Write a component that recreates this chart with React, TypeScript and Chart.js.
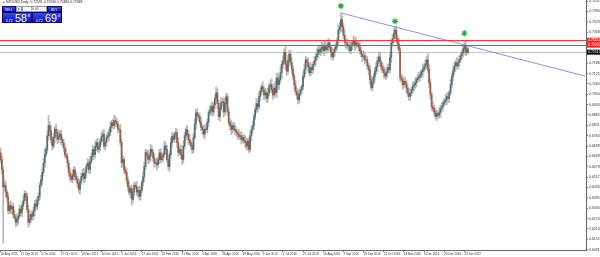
import React, { useEffect, useRef } from 'react';
import { Chart, registerables } from 'chart.js';
Chart.register(...registerables);

// NZDUSD daily closes, in pips (x 1e-4)
const closes = [
  6620,6560,6460,6470,6430,6400,6320,6350,6330,6346,
  6300,6280,6252,6270,6290,6330,6310,6350,6380,6420,
  6405,6330,6252,6270,6300,6288,6320,6360,6346,6380,
  6405,6470,6500,6545,6600,6650,6680,6760,6820,6790,
  6738,6700,6750,6800,6779,6740,6756,6770,6738,6720,
  6690,6650,6639,6600,6545,6520,6504,6530,6560,6520,
  6504,6480,6446,6490,6522,6540,6510,6545,6580,6600,
  6563,6610,6639,6680,6650,6697,6720,6680,6697,6730,
  6756,6770,6700,6720,6750,6760,6779,6810,6837,6820,
  6850,6843,6830,6800,6797,6720,6603,6620,6560,6545,
  6500,6460,6428,6450,6387,6430,6470,6463,6430,6440,
  6405,6440,6486,6520,6580,6662,6650,6621,6640,6680,
  6662,6630,6600,6603,6590,6621,6660,6620,6639,6650,
  6700,6680,6620,6580,6650,6720,6756,6740,6770,6779,
  6720,6662,6680,6650,6621,6700,6760,6797,6770,6738,
  6720,6700,6680,6750,6830,6896,6880,6873,6840,6810,
  6797,6770,6800,6797,6840,6896,6910,6931,6900,6940,
  6980,7013,6950,6873,6920,6955,6960,6900,6950,6990,
  6900,6837,6820,6797,6820,6800,6790,6779,6770,6756,
  6760,6738,6750,6730,6720,6700,6730,6680,6760,6797,
  6820,6870,6914,6950,6930,6990,7020,7048,7030,7000,
  7013,6980,7010,7048,7060,7030,7000,7040,7013,7100,
  7060,7089,7130,7180,7200,7250,7180,7140,7200,7240,
  7190,7150,7110,7060,7020,7000,6972,7010,7030,7048,
  7110,7150,7206,7190,7165,7130,7160,7148,7180,7200,
  7224,7240,7265,7250,7270,7282,7260,7290,7265,7280,
  7305,7280,7250,7224,7250,7270,7282,7320,7381,7400,
  7440,7399,7350,7310,7305,7290,7282,7260,7290,7305,
  7320,7290,7305,7300,7282,7260,7240,7224,7230,7206,
  7206,7170,7148,7090,7042,7071,7110,7140,7165,7200,
  7224,7190,7165,7150,7130,7110,7130,7160,7148,7220,
  7305,7330,7360,7380,7330,7300,7265,7101,7089,7060,
  7080,7071,7040,7010,6990,7010,7030,7050,7060,7071,
  7090,7100,7107,7120,7136,7150,7165,7180,7206,7150,
  7071,7000,6931,6920,6900,6873,6890,6880,6896,6920,
  6931,6950,6960,6972,6990,6980,7013,7060,7107,7140,
  7170,7189,7170,7190,7206,7230,7247,7270,7290,7250,
  7270,7251,
];
const firstOpen = 6660;

// wick lengths beyond the body, in pips
const upperWick = [
  30,25,20,35,20,15,25,20,30,15,20,25,15,30,20,25,15,20,30,20,
  15,20,25,30,20,15,25,20,30,25,20,15,30,20,25,35,20,30,60,25,
  30,20,25,15,30,20,35,20,25,15,20,25,30,20,15,25,20,30,20,15,
  25,20,30,15,20,25,30,20,15,25,20,30,20,25,15,30,20,25,20,15,
  25,20,30,15,20,25,20,30,15,20,30,25,20,15,25,30,20,25,15,20,
  25,20,30,15,20,25,20,15,30,20,25,20,15,30,25,20,15,25,20,30,
  20,15,25,20,30,15,20,25,20,15,30,20,25,15,20,30,25,20,15,25,
  20,30,15,25,20,30,20,15,25,20,30,15,20,25,30,20,25,15,20,30,
  15,25,20,30,20,15,25,20,30,15,20,35,25,20,15,30,20,25,30,20,
  15,25,20,30,15,20,25,20,15,30,20,25,15,20,30,25,15,20,30,20,
  25,20,15,30,20,25,20,15,30,20,25,15,30,20,25,35,20,30,40,25,
  30,25,35,20,30,20,35,25,30,20,25,30,20,15,25,20,30,25,20,15,
  25,30,20,15,25,20,30,20,15,25,20,30,25,20,15,30,20,25,20,15,
  25,20,15,30,20,25,20,15,30,25,41,25,20,30,15,25,20,30,20,15,
  25,20,30,15,20,25,20,15,30,20,25,20,15,25,20,30,15,20,25,20,
  30,20,15,25,20,30,15,20,25,30,20,25,30,23,25,20,30,15,20,25,
  20,25,15,20,30,20,15,25,20,30,15,20,25,20,15,30,20,25,20,35,
  25,20,15,30,20,25,20,15,30,20,25,15,20,30,20,25,15,30,20,25,
  20,15,30,20,25,20,15,25,20,30,15,10,
];
const lowerWick = [
  20,25,330,20,30,25,20,15,25,30,20,15,25,20,30,15,20,25,20,15,
  25,20,30,15,20,25,20,30,15,20,25,20,15,30,20,25,15,20,25,30,
  20,25,15,30,20,25,20,15,30,20,25,20,15,30,20,25,15,20,30,20,
  15,25,20,30,15,20,25,20,30,15,20,25,15,20,30,20,25,15,20,25,
  20,30,15,25,20,15,30,20,25,15,20,30,20,25,15,20,30,25,20,15,
  25,20,15,30,35,20,25,15,20,30,20,25,15,20,30,20,15,25,20,30,
  15,20,25,20,30,15,25,20,15,30,20,25,15,20,30,20,25,15,20,25,
  30,20,15,25,30,20,15,25,20,30,15,20,25,20,15,30,20,25,15,20,
  25,20,30,15,20,25,15,30,20,25,20,15,30,20,25,15,20,30,20,25,
  20,15,25,30,20,15,25,20,30,15,20,25,20,15,30,20,25,20,15,30,
  20,25,15,20,30,15,25,20,15,30,20,25,20,15,30,20,25,15,20,30,
  25,30,20,35,25,20,30,25,20,30,15,25,20,30,20,25,25,20,15,25,
  20,15,25,20,30,15,20,25,20,15,30,20,25,15,20,25,20,30,15,20,
  25,20,30,15,20,25,15,20,25,20,30,25,20,15,30,20,25,15,20,25,
  20,30,15,20,25,20,15,30,20,25,15,20,30,25,12,20,15,25,20,30,
  15,20,25,20,30,15,20,25,15,20,30,20,25,15,20,30,25,20,15,25,
  20,15,30,20,20,25,15,20,30,20,25,15,20,25,20,30,15,20,25,20,
  30,25,20,15,20,13,25,20,15,30,20,25,15,20,30,20,25,15,20,25,
  20,30,15,20,25,15,20,25,30,20,15,10,
];

const dateLabels = [
  '20 Aug 2015','11 Sep 2015','5 Oct 2015','27 Oct 2015','18 Nov 2015','10 Dec 2015',
  '5 Jan 2016','27 Jan 2016','18 Feb 2016','11 Mar 2016','4 Apr 2016','26 Apr 2016',
  '18 May 2016','9 Jun 2016','1 Jul 2016','25 Jul 2016','16 Aug 2016','7 Sep 2016',
  '29 Sep 2016','21 Oct 2016','14 Nov 2016','6 Dec 2016','28 Dec 2016','23 Jan 2017',
];
const barsPerLabel = 16;
const totalSlots = 465;

const yTicks = [
  0.75510,0.74902,0.74294,0.73686,0.73078,0.72470,0.71862,0.71254,0.70646,0.70038,
  0.69430,0.68822,0.68214,0.67606,0.66998,0.66390,0.65782,0.65174,0.64566,0.63958,
  0.63350,0.62742,0.62134,0.61526,0.60918,
];
const yMin = 0.6090;
const yMax = 0.7557;

const levelLines = [0.7321, 0.7292];
const bidPrice = 0.7251;
const trendIdx = [270, 464];
const trendPrices = [0.7481, 0.7110];
const markerIdx = [270, 313, 368];
const markerPrices = [0.7522, 0.7432, 0.7362];

const FONT = "'Liberation Sans', Arial, sans-serif";

export default function App() {
  const ref = useRef<HTMLCanvasElement | null>(null);
  useEffect(() => {
    const n = closes.length;
    const opens = closes.map((c, i) => (i === 0 ? firstOpen : closes[i - 1]));
    const labels = Array.from({ length: totalSlots }, (_, i) =>
      i % barsPerLabel === 0 && i / barsPerLabel < dateLabels.length ? dateLabels[i / barsPerLabel] : ''
    );
    const wick: any[] = [];
    const body: any[] = [];
    const bodyColors: string[] = [];
    for (let i = 0; i < totalSlots; i++) {
      if (i < n) {
        const o = opens[i], c = closes[i];
        const top = Math.max(o, c), bot = Math.min(o, c);
        wick.push([(bot - (lowerWick[i] ?? 0)) / 1e4, (top + (upperWick[i] ?? 0)) / 1e4]);
        body.push([bot / 1e4, (top === bot ? top + 0.6 : top) / 1e4]);
        bodyColors.push(c >= o ? '#4d7070' : '#9a5a44');
      } else {
        wick.push(null);
        body.push(null);
        bodyColors.push('#000');
      }
    }
    const trend = Array(totalSlots).fill(null);
    trendIdx.forEach((k, j) => (trend[k] = trendPrices[j]));
    const markers = Array(totalSlots).fill(null);
    markerIdx.forEach((k, j) => (markers[k] = markerPrices[j]));

    const overlay = {
      id: 'overlay',
      beforeDatasetsDraw(chart: any) {
        const { ctx, chartArea, scales } = chart;
        const y = scales.y;
        ctx.save();
        ctx.lineWidth = 1;
        const yb = Math.round(y.getPixelForValue(bidPrice)) + 0.5;
        ctx.strokeStyle = '#c3cbcb';
        ctx.beginPath();
        ctx.moveTo(chartArea.left, yb);
        ctx.lineTo(chartArea.right, yb);
        ctx.stroke();
        ctx.restore();
      },
      afterDatasetsDraw(chart: any) {
        const { ctx, chartArea, scales } = chart;
        const y = scales.y;
        ctx.save();
        ctx.lineWidth = 1;
        ctx.strokeStyle = '#ff3333';
        levelLines.forEach((v) => {
          const yy = Math.round(y.getPixelForValue(v)) + 0.5;
          ctx.beginPath();
          ctx.moveTo(chartArea.left, yy);
          ctx.lineTo(chartArea.right, yy);
          ctx.stroke();
        });
        ctx.restore();
      },
      afterDraw(chart: any) {
        const { ctx, chartArea, scales } = chart;
        const y = scales.y;
        ctx.save();
        ctx.font = `3.5px ${FONT}`;
        ctx.textBaseline = 'middle';
        const tag = (v: number, bg: string) => {
          const yy = y.getPixelForValue(v);
          ctx.fillStyle = bg;
          ctx.fillRect(chartArea.right + 1, yy - 2.5, 600 - chartArea.right - 1, 5);
          ctx.fillStyle = '#ffffff';
          ctx.fillText(v.toFixed(5), chartArea.right + 2, yy + 0.2);
        };
        levelLines.forEach((v) => tag(v, '#ff2020'));
        tag(bidPrice, '#000000');
        ctx.restore();
      },
    };

    const chart = new Chart(ref.current as HTMLCanvasElement, {
      type: 'bar',
      data: {
        labels,
        datasets: [
          {
            type: 'line',
            data: markers,
            showLine: false,
            pointStyle: 'star',
            pointRadius: 3,
            borderColor: '#14b040',
            backgroundColor: '#14b040',
            pointBorderWidth: 1.2,
            order: 1,
          } as any,
          {
            type: 'line',
            data: trend,
            spanGaps: true,
            borderColor: '#8f8ff0',
            borderWidth: 1,
            pointRadius: 0,
            order: 2,
          } as any,
          {
            type: 'bar',
            data: body,
            backgroundColor: bodyColors,
            barThickness: 1,
            grouped: false,
            order: 3,
          } as any,
          {
            type: 'bar',
            data: wick,
            backgroundColor: '#b8b8b8',
            barThickness: 1,
            grouped: false,
            order: 4,
          } as any,
        ],
      },
      options: {
        animation: false,
        responsive: false,
        maintainAspectRatio: false,
        layout: { padding: 0, autoPadding: false },
        plugins: { legend: { display: false }, tooltip: { enabled: false } },
        scales: {
          x: {
            type: 'category',
            offset: true,
            grid: { display: true, drawOnChartArea: false, tickLength: 2, color: '#777', offset: false },
            border: { display: true, color: '#666' },
            ticks: {
              autoSkip: false,
              maxRotation: 0,
              minRotation: 0,
              align: 'start',
              padding: 0,
              font: { size: 3, family: FONT },
              color: '#333',
            },
            afterBuildTicks: (axis: any) => {
              axis.ticks = dateLabels.map((_, k) => ({ value: k * barsPerLabel }));
            },
            afterFit: (s: any) => {
              s.height = 7;
              s.paddingLeft = 0;
              s.paddingRight = 0;
              s.paddingTop = 0;
              s.paddingBottom = 0;
            },
          } as any,
          y: {
            position: 'right',
            min: yMin,
            max: yMax,
            grid: { display: true, drawOnChartArea: false, tickLength: 2, color: '#777' },
            border: { display: true, color: '#666' },
            ticks: {
              padding: 1,
              font: { size: 3.5, family: FONT },
              color: '#333',
              callback: (v: any) => Number(v).toFixed(5),
            },
            afterBuildTicks: (axis: any) => {
              axis.ticks = yTicks.map((v) => ({ value: v }));
            },
            afterFit: (s: any) => {
              s.width = 14;
              s.paddingTop = 0;
              s.paddingBottom = 0;
              s.paddingLeft = 0;
              s.paddingRight = 0;
            },
          } as any,
        },
      },
      plugins: [overlay],
    });
    return () => chart.destroy();
  }, []);

  const blueBox = {
    position: 'absolute' as const,
    background: 'linear-gradient(#3a48e8, #1414b8)',
    border: '0.5px solid #0a0a70',
    boxSizing: 'border-box' as const,
    color: '#fff',
    fontFamily: FONT,
  };

  return (
    <div style={{ position: 'fixed', left: 0, top: 0, width: 600, height: 257, background: '#fff', overflow: 'hidden' }}>
      <canvas ref={ref} width={600} height={257} style={{ position: 'absolute', left: 0, top: 0, width: 600, height: 257 }} />
      <div style={{ position: 'absolute', left: 3, top: 0, fontSize: 3.4, lineHeight: '5px', fontFamily: FONT, color: '#222', whiteSpace: 'nowrap' }}>
        ▴ NZDUSD,Daily&nbsp; 0.72591 0.72636 0.72480 0.72588
      </div>
      <div style={{ position: 'absolute', left: 2, top: 6, width: 60, height: 17 }}>
        <div style={{ ...blueBox, left: 0, top: 0, width: 14, height: 6, fontSize: 3, lineHeight: '6px', paddingLeft: 2 }}>SELL</div>
        <div style={{ position: 'absolute', left: 14, top: 0, width: 6, height: 6, background: '#e8e8e8', border: '0.5px solid #999', boxSizing: 'border-box', fontSize: 3, lineHeight: '5px', textAlign: 'center', color: '#333' }}>▾</div>
        <div style={{ position: 'absolute', left: 20, top: 0, width: 25, height: 6, background: '#fff', border: '0.5px solid #999', boxSizing: 'border-box', fontSize: 3.2, lineHeight: '5px', textAlign: 'center', color: '#222', fontFamily: FONT }}>10.00</div>
        <div style={{ ...blueBox, left: 45, top: 0, width: 15, height: 6, fontSize: 3, lineHeight: '6px', paddingLeft: 3 }}>BUY</div>
        <div style={{ ...blueBox, left: 0, top: 6, width: 29.5, height: 11 }}>
          <span style={{ position: 'absolute', left: 3, top: 5.5, fontSize: 3.4, lineHeight: '4px' }}>0.72</span>
          <span style={{ position: 'absolute', left: 12, top: 0, fontSize: 11, lineHeight: '11px' }}>58</span>
          <span style={{ position: 'absolute', left: 25, top: 0.5, fontSize: 4, lineHeight: '4px' }}>8</span>
        </div>
        <div style={{ ...blueBox, left: 30, top: 6, width: 30, height: 11 }}>
          <span style={{ position: 'absolute', left: 3, top: 5.5, fontSize: 3.4, lineHeight: '4px' }}>0.72</span>
          <span style={{ position: 'absolute', left: 12, top: 0, fontSize: 11, lineHeight: '11px' }}>69</span>
          <span style={{ position: 'absolute', left: 25, top: 0.5, fontSize: 4, lineHeight: '4px' }}>4</span>
        </div>
      </div>
    </div>
  );
}
